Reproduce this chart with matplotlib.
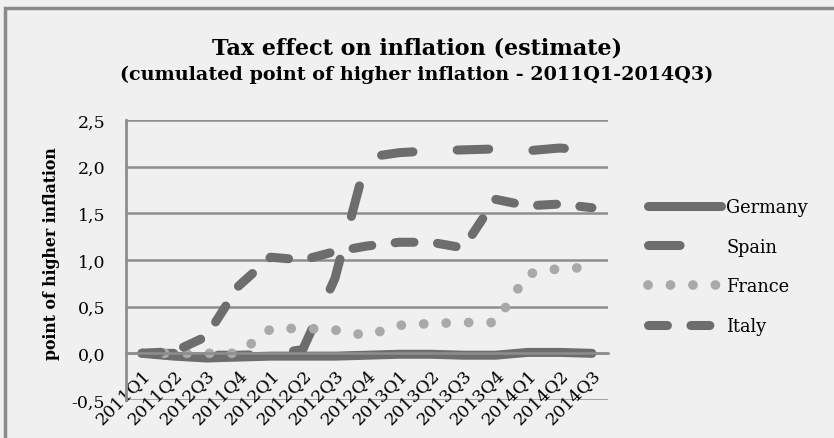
import matplotlib
matplotlib.use("Agg")
import matplotlib.pyplot as plt
from matplotlib.patches import Rectangle

quarters = ['2011Q1', '2011Q2', '2012Q3', '2011Q4', '2012Q1', '2012Q2', '2012Q3', '2012Q4',
            '2013Q1', '2013Q2', '2013Q3', '2013Q4', '2014Q1', '2014Q2', '2014Q3']
germany = [0.0, -0.03, -0.05, -0.04, -0.03, -0.03, -0.03, -0.02, -0.01, -0.01, -0.02, -0.02, 0.01, 0.01, 0.0]
spain = [0.0, 0.0, -0.02, -0.02, -0.01, 0.04, 0.8, 2.1, 2.15, 2.17, 2.18, 2.19, 2.17, 2.2, 2.17]
france = [0.0, 0.0, 0.0, 0.0, 0.26, 0.27, 0.25, 0.19, 0.3, 0.32, 0.33, 0.33, 0.85, 0.91, 0.92]
italy = [0.0, 0.02, 0.18, 0.72, 1.03, 1.0, 1.09, 1.15, 1.19, 1.19, 1.13, 1.65, 1.58, 1.6, 1.56]
yticks = [-0.5, 0.0, 0.5, 1.0, 1.5, 2.0, 2.5]

plt.rcParams['font.family'] = ['DejaVu Serif']

bg = '#f0f0f0'
dark = '#6d6d6d'
light = '#a9a9a9'
grid = '#8e8e8e'

fig = plt.figure(figsize=(8.34, 4.39), dpi=100, facecolor=bg)
ax = fig.add_axes([126 / 834, 1 - 401 / 439, 482 / 834, 280 / 439])
ax.set_facecolor(bg)

# spine position first: it resets the ticks
for s in ['top', 'right']:
    ax.spines[s].set_visible(False)
ax.spines['bottom'].set_position(('data', 0))
ax.spines['bottom'].set_color(grid)
ax.spines['bottom'].set_linewidth(1.8)
ax.spines['left'].set_color(grid)
ax.spines['left'].set_linewidth(2)

x = list(range(len(quarters)))
lw = 6.5
ax.plot(x, germany, color=dark, lw=lw, solid_capstyle='round', label='Germany')
ax.plot(x, spain, color=dark, lw=lw, linestyle=(0, (3.5, 4.9)), dash_capstyle='round', label='Spain')
ax.plot(x, france, color=light, lw=7, linestyle=(0, (0.01, 2.3)), dash_capstyle='round', label='France')
ax.plot(x, italy, color=dark, lw=lw, linestyle=(0, (2.1, 2.6)), dash_capstyle='round', label='Italy')

ax.set_xlim(-0.5, len(quarters) - 0.5)
ax.set_ylim(-0.5, 2.5)
ax.set_yticks(yticks)
ax.set_yticklabels([f'{v:.1f}'.replace('.', ',') for v in yticks], fontsize=12.5)
for v in yticks:
    ax.axhline(v, color=grid, lw=1.8, zorder=0)

ax.set_xticks(x)
ax.set_xticklabels(quarters, rotation=45, ha='right', va='top', rotation_mode='anchor', fontsize=12.5)
ax.tick_params(axis='x', length=0, pad=9)
ax.tick_params(axis='y', length=0, pad=15)

ax.set_ylabel('point of higher inflation', fontsize=11.3, fontweight='bold')
ax.yaxis.set_label_coords(-0.137, 0.525)

fig.text(0.5, 1 - 48 / 439, 'Tax effect on inflation (estimate)', ha='center', va='center',
         fontsize=16, fontweight='bold')
fig.text(0.5, 1 - 75 / 439, '(cumulated point of higher inflation - 2011Q1-2014Q3)', ha='center',
         va='center', fontsize=13.8, fontweight='bold')

ax.legend(loc='center left', bbox_to_anchor=(648 / 834, 1 - 267.5 / 439), bbox_transform=fig.transFigure,
          frameon=False, fontsize=12.8, borderaxespad=0, borderpad=0, handlelength=4.1,
          handletextpad=0.3, labelspacing=1.22)

fig.patches.append(Rectangle((5 / 834, -0.1), 2, 1.1 - 9 / 439, transform=fig.transFigure,
                             facecolor='none', edgecolor='#8a8a8a', lw=2.5))

fig.savefig('out.png', dpi=100, facecolor=bg)
